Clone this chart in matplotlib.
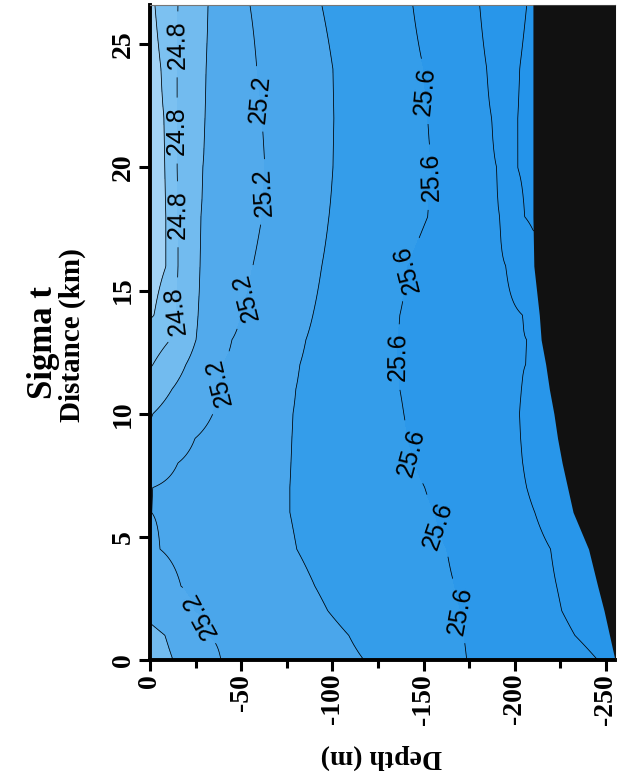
"""Sigma-t section (distance vs depth), drawn in the rotated page orientation."""
import matplotlib
matplotlib.use("Agg")
import matplotlib.pyplot as plt
import numpy as np

# distance stations (km) and contour depths (m)
dist_km = [0, 1, 2, 3, 4.5, 6, 7, 8, 9, 10, 11, 12, 13, 14, 16, 18, 20, 22, 24, 26.6]
nan = np.nan
contour_depths = {
    24.6: [nan] * 13 + [-2.2, -8.8, -8.8, -8.2, -7.7, -6.0, -2.7],
    24.8: [nan] * 11 + [-1.6, -11.0, -14.2, -15.3, -15.3, -14.8, -14.8, -14.8, -15.3],
    25.0: [-12.6, -8.2] + [nan] * 7 + [-1.6, -12.1, -19.7, -25.2, -26.3, -27.4, -27.9,
                                       -29.0, -30.1, -30.7, -31.8],
    25.2: [-38.9, -31.8, -24.7, -17.0, -5.5, -0.8, -1.5, -15.3, -24.7, -34.5, -37.3,
           -39.5, -44.9, -49.9, -56.4, -61.4, -63.0, -61.4, -58.6, -54.8],
    25.4: [-117.3, -109.0, -97.5, -90.4, -80.5, -76.7, -76.7, -77.3, -77.8, -78.4, -80.0,
           -82.2, -85.5, -89.3, -94.2, -98.1, -100.3, -100.8, -100.3, -94.2],
    25.6: [-173.7, -172.1, -170.4, -167.1, -162.7, -156.2, -150.7, -145.2, -141.4, -139.2,
           -137.0, -135.9, -135.9, -137.0, -141.4, -152.3, -154.5, -152.3, -150.1, -144.1],
    25.8: [-245.5, -233.0, -225.8, -223.0, -219.7, -211.0, -206.6, -204.4, -203.3, -202.7,
           -203.8, -206.0, -206.6, -204.4, -195.1, -191.8, -190.1, -187.4, -184.7, -180.8],
    26.0: [nan] * 15 + [-205.5, -201.6, -201.6, -202.7, -206.6],
}
surface_sigma = [24.9, 24.95, 25.05, 25.1, 25.15, 25.18, 25.18, 25.1, 25.05, 24.98, 24.9,
                 24.78, 24.7, 24.58, 24.5, 24.5, 24.5, 24.5, 24.52, 24.56]
bottom_sigma = [25.85, 25.85, 25.88, 25.88, 25.9, 25.9, 25.9, 25.9, 25.9, 25.9, 25.92,
                25.92, 25.92, 25.92, 25.95, 26.02, 26.05, 26.05, 26.05, 26.02]
bottom_depth = [-255, -252, -249, -245.5, -240.5, -232, -229, -226, -223.5, -221.5,
                -219, -217, -214.5, -213.5, -210.5, -210, -210, -210, -210, -210]

fill_levels = [24.0, 24.6, 24.8, 25.0, 25.2, 25.4, 25.6, 25.8, 26.0, 26.6]
fill_colors = ["#a3d3f5", "#7cc1f1", "#72bbef", "#52aaec", "#4aa6eb", "#349dea",
               "#2c98ea", "#2896ea", "#2494ea"]
plain_levels = [24.6, 25.0, 25.4, 25.8, 26.0]
label_levels = [24.8, 25.2, 25.6]
label_spots = [(-15, 25.0), (-15, 21.5), (-15, 18.1), (-14, 14.2),
               (-62, 22.8), (-64, 19.0), (-49, 14.8), (-37, 11.3), (-27, 1.8),
               (-152, 23.1), (-155, 19.6), (-140, 15.9), (-137, 12.3), (-142, 8.4),
               (-160, 5.5), (-170, 2.0)]
depth_ticks = [0, -50, -100, -150, -200, -250]
dist_ticks = [0, 5, 10, 15, 20, 25]

# build the sigma field column by column from the contour depths
zz = np.linspace(0, -260, 521)
Z = np.zeros((len(dist_km), len(zz)))
for i in range(len(dist_km)):
    pts = [(0.0, surface_sigma[i])]
    for lev, dep in contour_depths.items():
        if not np.isnan(dep[i]):
            pts.append((dep[i], lev))
    pts.append((bottom_depth[i], bottom_sigma[i]))
    pts.sort(key=lambda p: -p[0])
    xp = [-p[0] for p in pts]
    fp = [p[1] for p in pts]
    Z[i] = np.interp(-zz, xp, fp)

serif = {"family": "Liberation Serif", "weight": "bold"}

fig = plt.figure(figsize=(6.26, 7.78), dpi=100)
ax = fig.add_axes([0.2396, 0.1517, 0.7428, 0.8419])

ax.contourf(zz, dist_km, Z, levels=fill_levels, colors=fill_colors, zorder=1)
ax.contour(zz, dist_km, Z, levels=plain_levels, colors="black", linewidths=0.55, zorder=2)
cs = ax.contour(zz, dist_km, Z, levels=label_levels, colors="black", linewidths=0.55, zorder=2)
labels = ax.clabel(cs, manual=label_spots, inline=True, fmt="%.1f", fontsize=18)
for t in labels:
    t.set_fontfamily("Liberation Sans")
    r = t.get_rotation() % 360
    if r > 180:
        r -= 180
    if r < 66:
        r = 180 - r
    t.set_rotation(r)

ax.fill_betweenx(dist_km, bottom_depth, -270, color="#111111", zorder=3, linewidth=0)

ax.set_xlim(0, -255)
ax.set_ylim(0, 26.6)

ax.set_xticks(depth_ticks)
ax.set_xticklabels([str(v) for v in depth_ticks], rotation=90, fontdict=serif, fontsize=20)
ax.set_xticks([-25, -75, -125, -175, -225], minor=True)
ax.set_yticks(dist_ticks)
ax.set_yticklabels([str(v) for v in dist_ticks], rotation=90, va="center",
                   fontdict=serif, fontsize=20)
ax.tick_params(axis="both", which="major", direction="out", length=8, width=2.2, pad=2)
ax.tick_params(axis="x", which="minor", direction="out", length=6, width=2.2)

for side in ["left", "bottom"]:
    ax.spines[side].set_linewidth(2.8)
for side in ["top", "right"]:
    ax.spines[side].set_linewidth(0.8)
    ax.spines[side].set_color("#777777")

fig.text(0.069, 0.560, "Sigma t", rotation=90, ha="center", va="center",
         fontdict=serif, fontsize=25)
fig.text(0.115, 0.569, "Distance (km)", rotation=90, ha="center", va="center",
         fontdict=serif, fontsize=21)
fig.text(0.6086, 0.027, "Depth (m)", rotation=180, ha="center", va="center",
         fontdict=serif, fontsize=20)

fig.savefig("out.png", dpi=100)
